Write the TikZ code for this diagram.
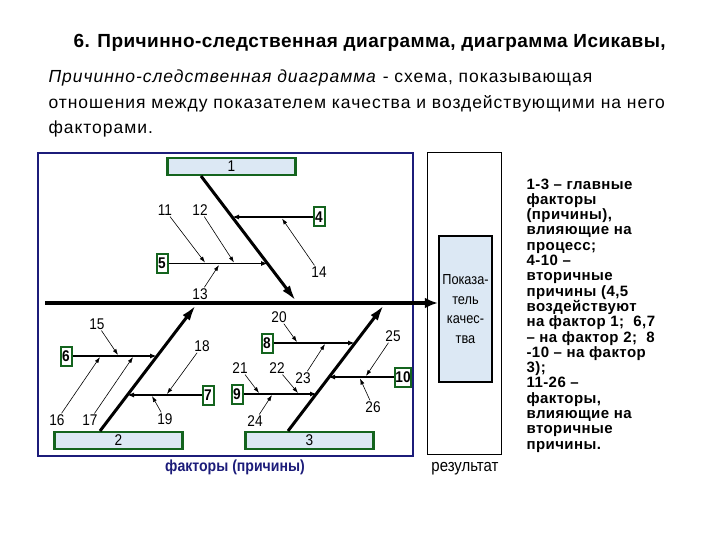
\documentclass[tikz,border=0pt]{standalone}
\usepackage{fontspec}
\setmainfont{Liberation Sans}
\newfontfamily\titlefont[LetterSpace=2.3]{Liberation Sans}
\newfontfamily\deffont[LetterSpace=5.5]{Liberation Sans}
\newfontfamily\legendfont[LetterSpace=3]{Liberation Sans}
\newfontfamily\narrowfont[FakeStretch=0.88]{Liberation Sans}
\usetikzlibrary{arrows.meta}
\definecolor{frameblue}{HTML}{1C1C7A}
\definecolor{boxgreen}{HTML}{14641E}
\definecolor{boxfill}{HTML}{DCE8F4}

\begin{document}
\begin{tikzpicture}[x=1pt,y=-1pt,
  bone/.style={line width=3pt,-{Latex[length=16pt,width=9pt]}},
  twig/.style={line width=1.4pt,-{Latex[length=7pt,width=5pt]}},
  leaf/.style={line width=0.6pt,-{Latex[length=6pt,width=4pt]}},
  factor/.style={draw=boxgreen, line width=2.5pt, fill=boxfill, minimum width=128pt, minimum height=17pt, inner sep=0pt, font=\narrowfont\fontsize{15.5}{15.5}\selectfont},
  cause/.style={draw=boxgreen, line width=2pt, fill=white, minimum width=11pt, minimum height=19pt, inner xsep=0.5pt, inner ysep=1pt, font=\narrowfont\bfseries\fontsize{15.5}{15.5}\selectfont},
  num/.style={inner sep=1pt, font=\narrowfont\fontsize{15.5}{15.5}\selectfont}]
  \fill[white] (0,0) rectangle (720,540);
  \useasboundingbox (0,0) rectangle (720,540);

  \node[anchor=west,font=\titlefont\bfseries\fontsize{19}{19}\selectfont] (title) at (70,43) {6. Причинно-следственная диаграмма, диаграмма Исикавы,};
  \node[anchor=west,font=\deffont\fontsize{17.5}{17.5}\selectfont] (def1) at (45,78) {\textit{Причинно-следственная диаграмма} - схема, показывающая};
  \node[anchor=west,font=\deffont\fontsize{17.5}{17.5}\selectfont] (def2) at (45,104) {отношения между показателем качества и воздействующими на него};
  \node[anchor=west,font=\deffont\fontsize{17.5}{17.5}\selectfont] (def3) at (45,129) {факторами.};

  \node[anchor=north west,align=left,font=\legendfont\bfseries\fontsize{15}{15.3}\selectfont] (legend) at (523,175) {1-3 – главные\\факторы\\(причины),\\влияющие на\\процесс;\\4-10 –\\вторичные\\причины (4,5\\воздействуют\\на фактор 1; \ 6,7\\– на фактор 2; \ 8\\-10 – на фактор\\3);\\11-26 –\\факторы,\\влияющие на\\вторичные\\причины.};

  \draw[frameblue,line width=2pt] (38,153) rectangle (413,456);
  \node[draw,line width=1pt,minimum width=74pt,minimum height=302pt] (resframe) at (464.5,303.5) {};
  \node[draw,line width=2.5pt,fill=boxfill,minimum width=51pt,minimum height=146pt,align=center,font=\narrowfont\fontsize{14.5}{19.5}\selectfont] (res) at (465.5,309) {Показа-\\тель\\качес-\\тва};
  \node[font=\narrowfont\fontsize{17}{17}\selectfont] (reslbl) at (465,469) {результат};
  \node[font=\narrowfont\bfseries\fontsize{16}{16}\selectfont,text=frameblue] (factlbl) at (235,467) {факторы (причины)};

  \coordinate (s0) at (45,303);
  \draw[line width=4pt,-{Latex[length=13pt,width=11pt]}] (s0) -- (s0 -| res.west);

  \node[factor] (f1) at (231.5,166.5) {1};
  \node[factor] (f2) at (118.5,440.5) {2};
  \node[factor] (f3) at (309.5,440.5) {3};

  \coordinate (b1s) at (201,176);
  \coordinate (b1e) at (296,301);
  \coordinate (b2s) at (100,431);
  \coordinate (b2e) at (196,305);
  \coordinate (b3s) at (288,431);
  \coordinate (b3e) at (384,305);
  \draw[bone] (b1s) -- (b1e);
  \draw[bone] (b2s) -- (b2e);
  \draw[bone] (b3s) -- (b3e);

  \foreach \n/\p/\q/\r in {4/319/217/232,5/162/263.5/268,6/66/356/157,7/208/395/127,8/267/343/355,9/237/394/317,10/403/377/328} {
    \node[cause] (c\n) at (\p,\q) {\n};
    \coordinate (t\n) at (\r,\q);
    \draw[twig] (c\n) -- (t\n);
  }

  \foreach \n/\p/\q/\r/\s in {11/165/210/205/262.5,12/200/210/234/262.5,13/200/294/219/265,14/319/272/282/218.5,15/97/324/118/355,16/57/420/100/357,17/90/420/133/357,18/202/346/167/394,19/165/419/152/396,20/279/317/297/342,21/240/368/259/393,22/277/368/298/393,23/303/378/325/344,24/255/421/272/395,25/393/336/366/376,26/373/407/360/378.5} {
    \node[num] (n\n) at (\p,\q) {\n};
    \coordinate (e\n) at (\r,\s);
    \draw[leaf] (n\n) -- (e\n);
  }
\end{tikzpicture}
\end{document}
